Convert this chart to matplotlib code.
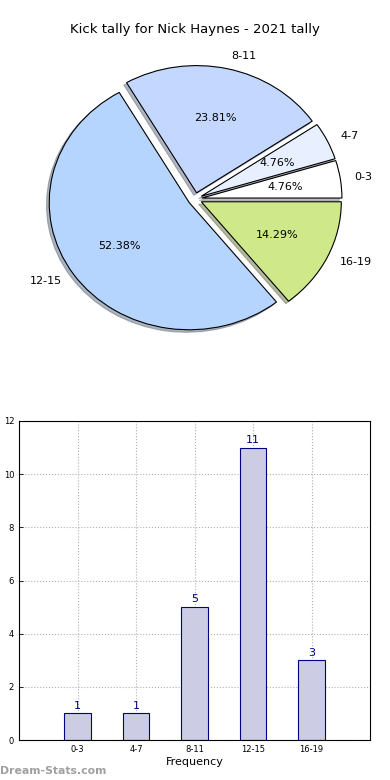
import matplotlib
matplotlib.use("Agg")
import matplotlib.pyplot as plt

categories = ["0-3", "4-7", "8-11", "12-15", "16-19"]
counts = [1, 1, 5, 11, 3]
pie_colors = ["#ffffff", "#e8f0ff", "#c4d8ff", "#b5d5ff", "#cfe98a"]
title = "Kick tally for Nick Haynes - 2021 tally"
yticks = [0, 2, 4, 6, 8, 10, 12]

fig = plt.figure(figsize=(3.9, 7.8), dpi=100)

# Pie
axp = fig.add_axes([20/390, 1 - 358/780, 350/390, 318/780])
wedges, texts, autotexts = axp.pie(
    counts, labels=categories, colors=pie_colors, explode=[0.05]*5,
    autopct="%1.2f%%", shadow=dict(ox=-0.014, oy=-0.014, shade=0.5),
    startangle=0, counterclock=True,
    wedgeprops=dict(edgecolor="black", linewidth=0.8),
    textprops=dict(fontsize=8), labeldistance=1.1, pctdistance=0.6)
axp.set_aspect("auto")
axp.set_xlim(-1.25, 1.25)
axp.set_ylim(-1.25, 1.25)
axp.axis("off")
fig.text(0.5, 1 - 30/780, title, ha="center", va="center", fontsize=9.5)

# Bar
axb = fig.add_axes([19/390, 40/780, 351/390, 319/780])
x = list(range(len(categories)))
axb.bar(x, counts, width=0.45, color="#cccce5", edgecolor="#000080", linewidth=0.8, zorder=2)
for xi, c in zip(x, counts):
    axb.text(xi, c + 0.1, str(c), ha="center", va="bottom", color="#000080", fontsize=8)
axb.set_xlim(-1, 5)
axb.set_ylim(0, 12)
axb.set_xticks(x)
axb.set_xticklabels(categories, fontsize=6)
axb.set_yticks(yticks)
axb.set_yticklabels([str(t) for t in yticks], fontsize=6)
axb.tick_params(length=3, width=0.6, direction="in")
axb.grid(True, linestyle=":", color="#b0b0b0", linewidth=0.8, zorder=0)
axb.set_axisbelow(True)
axb.set_xlabel("Frequency", fontsize=8, labelpad=2)
axb.set_ylabel("Distribution", fontsize=8, labelpad=2)
axb.yaxis.set_label_coords(-0.05, 0.5)
for s in axb.spines.values():
    s.set_linewidth(0.8)

fig.text(0.0, 1 - 771/780, "Dream-Stats.com", color="#a0a0a0", fontsize=7.8,
         fontweight="bold", ha="left", va="center")

fig.savefig("out.png", dpi=100)
